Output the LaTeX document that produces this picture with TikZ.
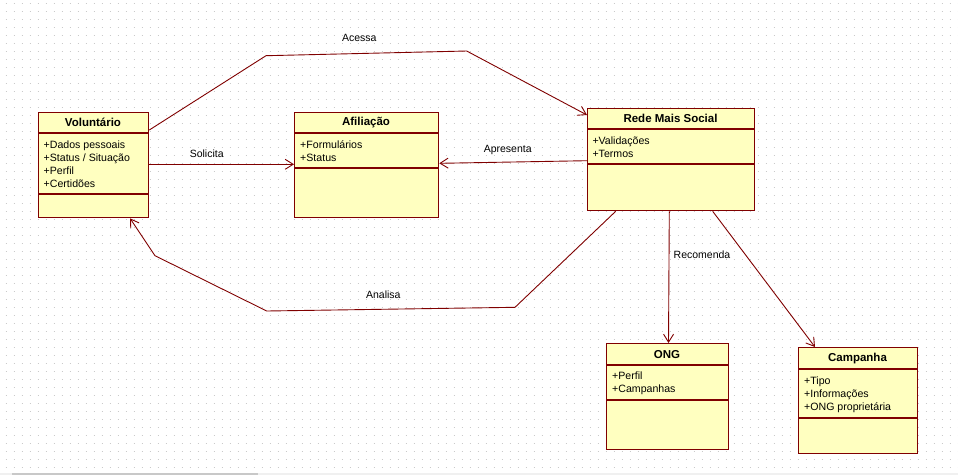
\documentclass[tikz,border=0pt]{standalone}
\usepackage{fontspec}
\setmainfont{Liberation Sans}
\usetikzlibrary{arrows.meta}
\definecolor{umlred}{HTML}{800000}
\definecolor{umlfill}{HTML}{FFFFC0}
\definecolor{dotgray}{HTML}{CACACA}
\definecolor{barbg}{HTML}{F0F0F0}
\definecolor{barthumb}{HTML}{C8C8C8}
\newcommand\capstrut{\rule{0pt}{8pt}}
\begin{document}
\begin{tikzpicture}[x=1pt,y=-1pt,
  classbox/.style={draw=umlred, fill=umlfill, line width=1.3pt, inner sep=0pt, anchor=north west},
  sepline/.style={draw=umlred, line width=1.3pt},
  classtitle/.style={font=\fontsize{11.5}{13}\selectfont\bfseries, inner sep=0pt},
  attrs/.style={font=\fontsize{10.6}{13}\selectfont, align=left, inner sep=0pt, anchor=north west},
  assoc/.style={draw=umlred, line width=0.9pt, -{Straight Barb[length=8pt,width=10pt]}},
  lbl/.style={font=\fontsize{10.5}{12}\selectfont, inner sep=0pt},
  dotgrid/.style={draw=dotgray, line width=1pt, dash pattern=on 1pt off 7pt},
]
\useasboundingbox (0,0) rectangle (958,475);
\fill[white] (0,0) rectangle (958,475);
% dotted grid
\foreach \gy in {3,11,...,467} {\draw[dotgrid] (5.5,\gy) -- (958,\gy);}
% scrollbar
\fill[barbg] (0,472.7) rectangle (958,475);
\fill[barthumb] (12,472.7) rectangle (258,475);

% Voluntario
\node[classbox, minimum width=110pt, minimum height=105pt] (vol) at (38,112) {};
\draw[sepline] (vol.west |- 0,133) -- (vol.east |- 0,133);
\draw[sepline] (vol.west |- 0,194) -- (vol.east |- 0,194);
\node[classtitle] (volt) at (93,122.5) {Voluntário};
\node[attrs] (vola) at (43.5,139.8) {\capstrut+Dados pessoais\\+Status / Situação\\+Perfil\\+Certidões};

% Afiliacao
\node[classbox, minimum width=144pt, minimum height=105pt] (afil) at (294,112) {};
\draw[sepline] (afil.west |- 0,133) -- (afil.east |- 0,133);
\draw[sepline] (afil.west |- 0,168) -- (afil.east |- 0,168);
\node[classtitle] (afilt) at (366,122.5) {Afiliação};
\node[attrs] (afila) at (300,139.8) {\capstrut+Formulários\\+Status};

% Rede Mais Social
\node[classbox, minimum width=167pt, minimum height=102pt] (rede) at (587,108) {};
\draw[sepline] (rede.west |- 0,129) -- (rede.east |- 0,129);
\draw[sepline] (rede.west |- 0,164) -- (rede.east |- 0,164);
\node[classtitle] (redet) at (670.5,118.5) {Rede Mais Social};
\node[attrs] (redea) at (592.3,135.8) {\capstrut+Validações\\+Termos};

% ONG
\node[classbox, minimum width=122pt, minimum height=106pt] (ong) at (606,343) {};
\draw[sepline] (ong.west |- 0,365) -- (ong.east |- 0,365);
\draw[sepline] (ong.west |- 0,400) -- (ong.east |- 0,400);
\node[classtitle] (ongt) at (667,354.2) {ONG};
\node[attrs] (onga) at (612,371.5) {\capstrut+Perfil\\+Campanhas};

% Campanha
\node[classbox, minimum width=119pt, minimum height=106pt] (camp) at (798,347) {};
\draw[sepline] (camp.west |- 0,369) -- (camp.east |- 0,369);
\draw[sepline] (camp.west |- 0,418) -- (camp.east |- 0,418);
\node[classtitle] (campt) at (857.5,358.3) {Campanha};
\node[attrs] (campa) at (804,375.8) {\capstrut+Tipo\\+Informações\\+ONG proprietária};

% connectors
\coordinate (ac1) at (266,55.7);
\coordinate (ac2) at (466.7,51);
\draw[assoc] (vol.east |- 0,130) -- (ac1) -- (ac2) -- (rede.west |- 0,115);
\node[lbl] (lacessa) at (359.3,38.3) {Acessa};

\draw[assoc] (vol.east |- 0,164.3) -- (afil.west |- 0,164.3);
\node[lbl] (lsolicita) at (206.7,154) {Solicita};

\draw[assoc] (rede.west |- 0,160.7) -- (afil.east |- 0,163.3);
\node[lbl] (lapresenta) at (507.7,150) {Apresenta};

\coordinate (an1) at (515,307.3);
\coordinate (an2) at (266.7,311);
\coordinate (an3) at (155,255.7);
\draw[assoc] (rede.south -| 615.7,0) -- (an1) -- (an2) -- (an3) -- (vol.south -| 130,0);
\node[lbl] (lanalisa) at (383.3,294.3) {Analisa};

\draw[assoc] (rede.south -| 669.3,0) -- (ong.north -| 668.5,0);
\node[lbl] (lrecomenda) at (702,254.3) {Recomenda};

\draw[assoc] (rede.south -| 712.7,0) -- (camp.north -| 815,0);
\end{tikzpicture}
\end{document}
